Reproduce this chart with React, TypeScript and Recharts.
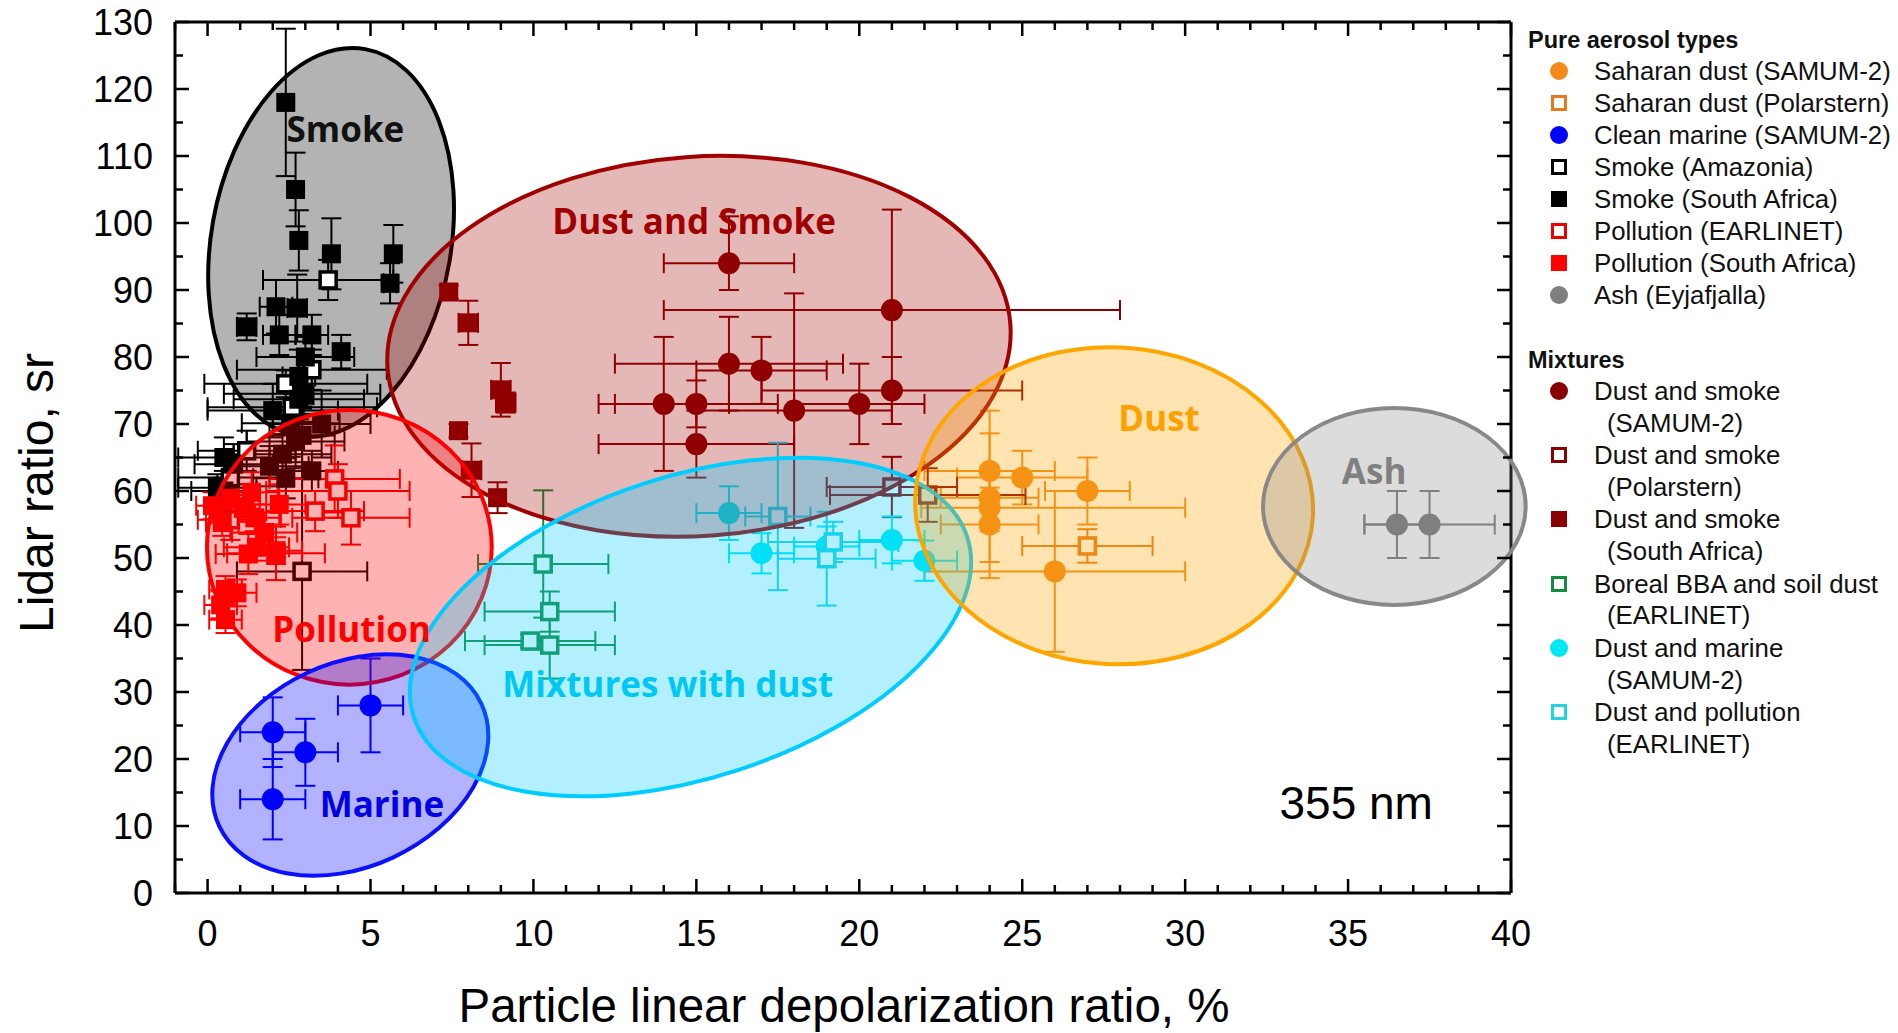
import React from "react"
import { ScatterChart, Scatter, XAxis, YAxis, ErrorBar, ReferenceArea, ReferenceDot } from "recharts"

type Err = number | [number, number]
type Row = [number, number, Err, Err] // depol %, lidar ratio sr, x error, y error

// ---- pure aerosol types
const saharanDustSamum: Row[] = [
  [24, 63, 2, 9], [25, 62, 2, 4], [24, 59, 1.5, 9.6], [24, 57.5, [2.1, 6], 3],
  [24, 55, 1.5, 8], [27, 60, 1.3, 5], [26, 48, 4, 12],
]
const saharanDustPolar: Row[] = [[27, 51.8, 2, 2.5]]
const cleanMarine: Row[] = [[2, 24, 1, 5.2], [3, 21, 1, 5], [5, 28, 1, 7], [2, 14, 1, 6]]
const smokeAmazonia: Row[] = [
  [3.7, 91.5, 2, 3], [3.2, 78.1, 2.3, 3], [2.9, 74.5, 2.4, 3], [2.6, 72.5, 2.6, 2],
  [1.2, 66, 1.5, 3], [0.7, 62, 1.6, 3], [2.9, 48, 2, [14.7, 24.6]], [2.4, 76, 2.5, 2],
]
const smokeSouthAfrica: Row[] = [
  [2.4, 118, 0, 11], [2.7, 105, 0, 5.5], [2.8, 97.4, 0, 4.5], [3.8, 95.4, 0, 5.3],
  [5.7, 95.4, 0, 4.3], [5.6, 91, 0.2, 3], [1.2, 84.5, 0.3, 2], [2.1, 87.5, 0.5, 4],
  [2.75, 87.3, 0.3, 5], [2.2, 83.3, 0.5, 3], [3.2, 83.3, 0.5, 3], [4.1, 80.8, 0, 2.5],
  [2.8, 77.1, 0.5, 4], [2.95, 74.3, 0.3, 4], [2.8, 73.7, 2, 3], [2.55, 70.1, 1.5, 5],
  [2.7, 67.4, 1.5, 4], [2.3, 65.5, 1.5, 3], [1.9, 63.7, 1.2, 3], [2.9, 68.3, 1, 4],
  [2.4, 61.9, 1, 3], [0.5, 60, 1, 3], [3.2, 63, 0.8, 3], [3.5, 70, 1.5, 5],
  [2, 72, 2, 4], [3, 80, 1.5, 3], [0.8, 64, 1.2, 3], [0.3, 60.5, 1.2, 2], [0.5, 65, 1.4, 3],
]
const pollutionEarlinet: Row[] = [
  [4.4, 56, 1.8, 4], [3.9, 61.8, 2, 5], [2.1, 50.7, 1.5, 4], [0.7, 55.7, 1, 3],
  [4, 60, 2.2, 4], [3.3, 57, 1.5, 3],
]
const pollutionSouthAfrica: Row[] = [
  [0.15, 57.8, 0.5, 2], [0.45, 55.3, 0.5, 2], [0.7, 58.9, 0.5, 3], [1.1, 57.4, 0.5, 2],
  [1.35, 59.8, 0.8, 3], [1.45, 56, 0.8, 2], [1.75, 53.8, 1, 3], [1.25, 50.6, 1, 3],
  [0.55, 45.3, 0.5, 2], [0.9, 44.8, 0.6, 2], [0.4, 43, 0.5, 2], [0.55, 40.8, 0.5, 2],
  [1.5, 51.6, 1, 2], [2.1, 51.1, 0.8, 2], [2.2, 58, 0.8, 3],
]
const ashEyja: Row[] = [[36.5, 55, 1, 5], [37.5, 55, 2, 5]]

// ---- mixtures
const dustSmokeSamum: Row[] = [
  [16, 94, 2, [4, 7]], [21, 87, 7, [7, 15]], [16, 79, 3.5, 7], [17, 78, 2, 5],
  [14, 73, 2, 10], [15, 73, 2.5, 3.5], [18, 72, 3, 17.5], [20, 73, 2, 6],
  [21, 75, 4, 5], [15, 67, 3, 5],
]
const dustSmokePolar: Row[] = [[21, 60.6, 2, 4.5], [22.1, 59.4, 3, 4]]
const dustSmokeSouthAfrica: Row[] = [
  [7.4, 89.7, 0, 1], [8, 85.1, 0.3, 3.3], [9, 75.1, 0.3, 4], [9.15, 73.2, 0.3, 1.5],
  [7.7, 69, 0, 1], [8.1, 63.1, 0.3, 4], [8.9, 59, 0, 2.3],
]
const borealBba: Row[] = [[10.3, 49.1, 2, [8, 11]], [10.5, 42, 2, 3], [9.9, 37.6, 2, 1], [10.5, 37, 2, 5]]
const dustMarine: Row[] = [[16, 56.7, 1, 4], [17, 50.7, 1, 3], [19, 51.7, 1, 3], [21, 52.7, 1, 3.5], [22, 49.6, 1, 3]]
const dustPollution: Row[] = [[17.5, 56.2, 1, 11], [19.2, 52.4, 2, 3], [19, 49.9, 1.5, 7]]

// region ellipses: name, centre x, centre y, half-width (x units), half-height (y units), tilt deg
const regions: [string, number, number, number, number, number][] = [
  ["Smoke", 3.79, 97.1, 3.68, 29.3, 10],
  ["Dust and Smoke", 15.08, 81.6, 9.58, 28.3, -4],
  ["Pollution", 4.35, 51.6, 4.37, 20.5, 0],
  ["Marine", 4.38, 19.1, 4.44, 15.2, -25],
  ["Mixtures with dust", 14.82, 39.7, 8.93, 22.5, -18],
  ["Dust", 27.82, 57.8, 6.11, 23.65, 3],
  ["Ash", 36.42, 57.7, 4.03, 14.7, 0],
]
const regionLabels: [string, number, number][] = [
  ["Smoke", 4.23, 114.1], ["Dust and Smoke", 14.93, 100.4], ["Pollution", 4.42, 39.5],
  ["Marine", 5.35, 13.4], ["Mixtures with dust", 14.12, 31.2], ["Dust", 29.2, 71], ["Ash", 35.8, 63],
]
const waveLabel: [string, number, number] = ["355 nm", 35.25, 13.4]

const xTicks = Array.from({ length: 42 }, (_, i) => i - 1)
const yTicks = Array.from({ length: 27 }, (_, i) => i * 5)

const REGION_STYLE: Record<string, { stroke: string; fill: string; op: number; text: string }> = {
  "Smoke": { stroke: "#000", fill: "#b3b3b3", op: 1, text: "#111" },
  "Dust and Smoke": { stroke: "#a00000", fill: "#a00000", op: 0.28, text: "#a00000" },
  "Pollution": { stroke: "#ff0000", fill: "#ff0000", op: 0.3, text: "#ff0000" },
  "Marine": { stroke: "#0a10ff", fill: "#0000ff", op: 0.3, text: "#0000e6" },
  "Mixtures with dust": { stroke: "#00ccff", fill: "#00ccff", op: 0.3, text: "#00c8f5" },
  "Dust": { stroke: "#ffa500", fill: "#ffa500", op: 0.3, text: "#ffa000" },
  "Ash": { stroke: "#888", fill: "#808080", op: 0.28, text: "#808080" },
}

type Kind = "circle" | "square" | "open"
interface Series { name: string[]; rows: Row[]; kind: Kind; color: string }

const pure: Series[] = [
  { name: ["Saharan dust (SAMUM-2)"], rows: saharanDustSamum, kind: "circle", color: "#f28a1c" },
  { name: ["Saharan dust (Polarstern)"], rows: saharanDustPolar, kind: "open", color: "#e8791a" },
  { name: ["Clean marine (SAMUM-2)"], rows: cleanMarine, kind: "circle", color: "#0000ff" },
  { name: ["Smoke (Amazonia)"], rows: smokeAmazonia, kind: "open", color: "#000" },
  { name: ["Smoke (South Africa)"], rows: smokeSouthAfrica, kind: "square", color: "#000" },
  { name: ["Pollution (EARLINET)"], rows: pollutionEarlinet, kind: "open", color: "#ee0000" },
  { name: ["Pollution (South Africa)"], rows: pollutionSouthAfrica, kind: "square", color: "#ff0000" },
  { name: ["Ash (Eyjafjalla)"], rows: ashEyja, kind: "circle", color: "#7f7f7f" },
]
const mixtures: Series[] = [
  { name: ["Dust and smoke", "(SAMUM-2)"], rows: dustSmokeSamum, kind: "circle", color: "#8a0000" },
  { name: ["Dust and smoke", "(Polarstern)"], rows: dustSmokePolar, kind: "open", color: "#8a0000" },
  { name: ["Dust and smoke", "(South Africa)"], rows: dustSmokeSouthAfrica, kind: "square", color: "#8a0000" },
  { name: ["Boreal BBA and soil dust", "(EARLINET)"], rows: borealBba, kind: "open", color: "#178c3c" },
  { name: ["Dust and marine", "(SAMUM-2)"], rows: dustMarine, kind: "circle", color: "#00e8f2" },
  { name: ["Dust and pollution", "(EARLINET)"], rows: dustPollution, kind: "open", color: "#22d3e6" },
]

const toPts = (rows: Row[]) => rows.map(([x, y, ex, ey]) => ({ x, y, ex, ey }))

const marker = (kind: Kind, color: string) => (p: any) => {
  const { cx, cy } = p
  if (kind === "circle") return <circle cx={cx} cy={cy} r={11} fill={color} />
  if (kind === "square") return <rect x={cx - 9.5} y={cy - 9.5} width={19} height={19} fill={color} />
  return <rect x={cx - 8} y={cy - 8} width={16} height={16} fill="#fff" stroke={color} strokeWidth={3.5} />
}

const ellipseShape = (tilt: number, st: { stroke: string; fill: string; op: number }) => (p: any) => {
  const cx = p.x + p.width / 2
  const cy = p.y + p.height / 2
  return (
    <ellipse cx={cx} cy={cy} rx={Math.abs(p.width) / 2} ry={Math.abs(p.height) / 2}
      transform={`rotate(${tilt} ${cx} ${cy})`} fill={st.fill} fillOpacity={st.op}
      stroke={st.stroke} strokeWidth={4} />
  )
}

const FONT = "'Liberation Sans', Arial, sans-serif"

const BottomTick = (p: any) => {
  const v = p.payload.value
  const major = v % 5 === 0
  return (
    <g>
      <line x1={p.x} x2={p.x} y1={p.y} y2={p.y - (major ? 14 : 8)} stroke="#000" strokeWidth={2.5} />
      {major && <text x={p.x} y={p.y + 53} textAnchor="middle" fontSize={36} fontFamily={FONT} fill="#000">{v}</text>}
    </g>
  )
}
const TopTick = (p: any) => {
  const major = p.payload.value % 5 === 0
  return <line x1={p.x} x2={p.x} y1={p.y} y2={p.y + (major ? 14 : 8)} stroke="#000" strokeWidth={2.5} />
}
const LeftTick = (p: any) => {
  const v = p.payload.value
  const major = v % 10 === 0
  return (
    <g>
      <line x1={p.x} x2={p.x + (major ? 14 : 8)} y1={p.y} y2={p.y} stroke="#000" strokeWidth={2.5} />
      {major && <text x={p.x - 22} y={p.y + 13} textAnchor="end" fontSize={36} fontFamily={FONT} fill="#000">{v}</text>}
    </g>
  )
}
const RightTick = (p: any) => {
  const major = p.payload.value % 10 === 0
  return <line x1={p.x} x2={p.x - (major ? 14 : 8)} y1={p.y} y2={p.y} stroke="#000" strokeWidth={2.5} />
}

const AXIS_LINE = { stroke: "#000", strokeWidth: 3 }

function LegendSymbol({ kind, color }: { kind: Kind; color: string }) {
  return (
    <svg width={24} height={24} style={{ position: "absolute", left: -12, top: -12 }}>
      {kind === "circle" && <circle cx={12} cy={12} r={9} fill={color} />}
      {kind === "square" && <rect x={4} y={4} width={16} height={16} fill={color} />}
      {kind === "open" && <rect x={5.5} y={5.5} width={13} height={13} fill="#fff" stroke={color} strokeWidth={3} />}
    </svg>
  )
}

function Legend() {
  const rows: React.ReactNode[] = []
  const item = (s: Series, y: number, key: string) => {
    rows.push(
      <div key={key + "s"} style={{ position: "absolute", left: 1559, top: y }}>
        <LegendSymbol kind={s.kind} color={s.color} />
      </div>
    )
    s.name.forEach((line, j) => rows.push(
      <div key={key + j} style={{ position: "absolute", left: j === 0 ? 1594 : 1607, top: y + j * 31.7, transform: "translateY(-50%)", fontSize: 25.8, whiteSpace: "nowrap", color: "#111" }}>{line}</div>
    ))
  }
  const header = (t: string, y: number) => rows.push(
    <div key={t} style={{ position: "absolute", left: 1528, top: y, transform: "translateY(-50%)", fontSize: 23.5, fontWeight: 700, whiteSpace: "nowrap", color: "#111" }}>{t}</div>
  )
  header("Pure aerosol types", 40)
  pure.forEach((s, i) => item(s, 71.4 + i * 32, "p" + i))
  header("Mixtures", 359.5)
  mixtures.forEach((s, i) => item(s, 391 + i * 64.2, "m" + i))
  return <>{rows}</>
}

export default function App() {
  const all = [...pure, ...mixtures]
  const [smoke, ...others] = regions
  const region = ([name, cx, cy, rx, ry, tilt]: [string, number, number, number, number, number], z: number) => (
    <ReferenceArea key={name} x1={cx - rx} x2={cx + rx} y1={cy - ry} y2={cy + ry} ifOverflow="visible"
      zIndex={z} shape={ellipseShape(tilt, REGION_STYLE[name])} />
  )
  return (
    <div style={{ position: "absolute", left: 0, top: 0, width: 1898, height: 1033, background: "#fff", fontFamily: FONT, overflow: "hidden" }}>
      <ScatterChart width={1898} height={1033} margin={{ top: 21, right: 386, bottom: 139, left: 174 }}>
        <XAxis type="number" dataKey="x" domain={[-1, 40]} ticks={xTicks} interval={0} allowDataOverflow height={1}
          tickSize={0} tickMargin={0} tickLine={false} axisLine={AXIS_LINE} tick={BottomTick} />
        <XAxis xAxisId="top" orientation="top" type="number" dataKey="x" domain={[-1, 40]} ticks={xTicks} interval={0}
          allowDataOverflow height={1} tickSize={0} tickMargin={0} tickLine={false} axisLine={AXIS_LINE} tick={TopTick} />
        <YAxis type="number" dataKey="y" domain={[0, 130]} ticks={yTicks} interval={0} allowDataOverflow width={1}
          tickSize={0} tickMargin={0} tickLine={false} axisLine={AXIS_LINE} tick={LeftTick} />
        <YAxis yAxisId="right" orientation="right" type="number" dataKey="y" domain={[0, 130]} ticks={yTicks} interval={0}
          allowDataOverflow width={1} tickSize={0} tickMargin={0} tickLine={false} axisLine={AXIS_LINE} tick={RightTick} />

        {region(smoke, 50)}

        {all.map((s) => (
          <Scatter key={s.name.join(" ")} name={s.name.join(" ")} data={toPts(s.rows)} shape={marker(s.kind, s.color)} isAnimationActive={false}>
            <ErrorBar dataKey="ex" direction="x" width={10} stroke={s.color} strokeWidth={2} />
            <ErrorBar dataKey="ey" direction="y" width={10} stroke={s.color} strokeWidth={2} />
          </Scatter>
        ))}

        {others.map((r) => region(r, 800))}

        {regionLabels.map(([t, x, y]) => (
          <ReferenceDot key={"l" + t} x={x} y={y} r={0} ifOverflow="visible" zIndex={900}
            shape={(p: any) => (
              <text x={p.cx} y={p.cy} textAnchor="middle" dominantBaseline="central" fontSize={35} fontWeight={700}
                fontFamily="'Open Sans', sans-serif" fill={REGION_STYLE[t].text}>{t}</text>
            )} />
        ))}
        <ReferenceDot x={waveLabel[1]} y={waveLabel[2]} r={0} ifOverflow="visible" zIndex={900}
          shape={(p: any) => (
            <text x={p.cx} y={p.cy} textAnchor="middle" dominantBaseline="central" fontSize={46} fontFamily={FONT} fill="#000">{waveLabel[0]}</text>
          )} />
      </ScatterChart>

      <div style={{ position: "absolute", left: 844, top: 1005, transform: "translate(-50%, -50%)", fontSize: 47.5, whiteSpace: "nowrap", color: "#000" }}>
        Particle linear depolarization ratio, %
      </div>
      <div style={{ position: "absolute", left: 36, top: 493, transform: "translate(-50%, -50%) rotate(-90deg)", fontSize: 48, whiteSpace: "nowrap", color: "#000" }}>
        Lidar ratio, sr
      </div>
      <Legend />
    </div>
  )
}
